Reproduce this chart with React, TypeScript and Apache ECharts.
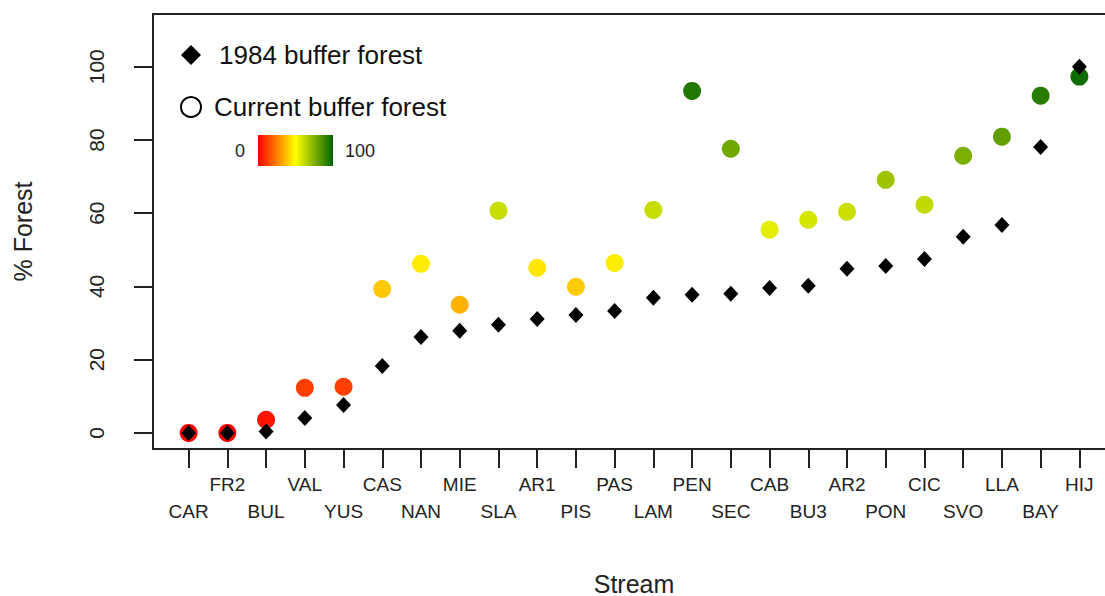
import React, { useEffect, useRef } from "react";
import * as echarts from "echarts";

const streams = ["CAR","FR2","BUL","VAL","YUS","CAS","NAN","MIE","SLA","AR1","PIS","PAS","LAM","PEN","SEC","CAB","BU3","AR2","PON","CIC","SVO","LLA","BAY","HIJ"];
const forest1984 = [0,0,0.4,4.1,7.6,18.3,26.2,27.9,29.5,31.1,32.2,33.3,36.9,37.7,38,39.6,40.2,44.8,45.6,47.5,53.6,56.8,78.1,100];
const forestCurrent = [0,0,3.6,12.3,12.6,39.3,46.2,35,60.7,45.1,39.9,46.4,60.9,93.4,77.6,55.5,58.2,60.4,69.1,62.3,75.7,80.9,92.1,97.3];
const yTicks = [0,20,40,60,80,100];
const rampColors = ["#FF0000","#FFFF00","#006400"];

const FONT = "Liberation Sans, Arial, sans-serif";

export default function App() {
  const ref = useRef<HTMLDivElement>(null);
  useEffect(() => {
    if (!ref.current) return;
    const chart = echarts.init(ref.current, null, { renderer: "svg" });
    const xIdx = streams.map((_, i) => i + 1);
    chart.setOption({
      animation: false,
      textStyle: { fontFamily: FONT },
      grid: { left: 153, top: 14, right: -10, bottom: 147, show: true, borderColor: "#222", borderWidth: 2, backgroundColor: "transparent", outerBoundsMode: "none", containLabel: false },
      xAxis: {
        type: "value",
        min: 0.08,
        max: 24.92,
        name: "Stream",
        nameLocation: "middle",
        nameGap: 122,
        nameTextStyle: { fontSize: 25, color: "#222", fontFamily: FONT },
        axisLine: { show: true, onZero: false, lineStyle: { color: "#222", width: 2 } },
        axisTick: { show: true, customValues: xIdx, length: 19, lineStyle: { color: "#222", width: 2 } },
        axisLabel: {
          customValues: xIdx,
          margin: 22,
          fontSize: 19,
          lineHeight: 27,
          color: "#222",
          fontFamily: FONT,
          formatter: (v: number) => {
            const i = Math.round(v) - 1;
            const name = streams[i] ?? "";
            return i % 2 === 0 ? "\n" + name : name;
          },
        },
        splitLine: { show: false },
      },
      yAxis: {
        type: "value",
        min: -4.4,
        max: 114.4,
        name: "% Forest",
        nameLocation: "middle",
        nameRotate: 90,
        nameGap: 118,
        nameTextStyle: { fontSize: 25, color: "#222", fontFamily: FONT },
        axisLine: { show: false, onZero: false },
        axisTick: { show: true, customValues: yTicks, length: 19, lineStyle: { color: "#222", width: 2 } },
        axisLabel: { customValues: yTicks, rotate: 90, margin: 46, fontSize: 21, color: "#222", fontFamily: FONT },
        splitLine: { show: false },
      },
      visualMap: {
        show: false,
        type: "continuous",
        seriesIndex: 0,
        dimension: 1,
        min: 0,
        max: 100,
        inRange: { color: rampColors },
      },
      legend: {
        orient: "vertical",
        left: 175,
        top: 35,
        itemWidth: 20,
        itemHeight: 20,
        itemGap: 22,
        textStyle: { fontSize: 26, color: "#111", fontFamily: FONT, lineHeight: 30 },
        data: [
          { name: "1984 buffer forest", icon: "diamond", itemStyle: { color: "#000", opacity: 1 }, textStyle: { padding: [0, 0, 0, 13] } },
          { name: "Current buffer forest", icon: "circle", itemStyle: { color: "#fff", borderColor: "#000", borderWidth: 2, opacity: 1 }, textStyle: { padding: [0, 0, 0, 8] } },
        ],
        selectedMode: false,
      },
      graphic: [
        {
          type: "rect",
          shape: { x: 258, y: 135, width: 75, height: 31 },
          style: {
            fill: new echarts.graphic.LinearGradient(0, 0, 1, 0, [
              { offset: 0, color: rampColors[0] },
              { offset: 0.5, color: rampColors[1] },
              { offset: 1, color: rampColors[2] },
            ]),
          },
        },
        { type: "text", x: 240, y: 151, style: { text: "0", fontSize: 18, fill: "#222", fontFamily: FONT, textAlign: "center", textVerticalAlign: "middle" } },
        { type: "text", x: 345, y: 151, style: { text: "100", fontSize: 18, fill: "#222", fontFamily: FONT, textAlign: "left", textVerticalAlign: "middle" } },
      ],
      series: [
        {
          name: "Current buffer forest",
          type: "scatter",
          symbol: "circle",
          symbolSize: 18,
          itemStyle: { opacity: 1 },
          data: forestCurrent.map((v, i) => [i + 1, v]),
          z: 2,
        },
        {
          name: "1984 buffer forest",
          type: "scatter",
          symbol: "diamond",
          symbolSize: [15, 16],
          itemStyle: { color: "#000", opacity: 1 },
          data: forest1984.map((v, i) => [i + 1, v]),
          z: 3,
        },
      ],
    });
    return () => chart.dispose();
  }, []);
  return <div ref={ref} style={{ position: "absolute", left: 0, top: 0, width: 1105, height: 596 }} />;
}
